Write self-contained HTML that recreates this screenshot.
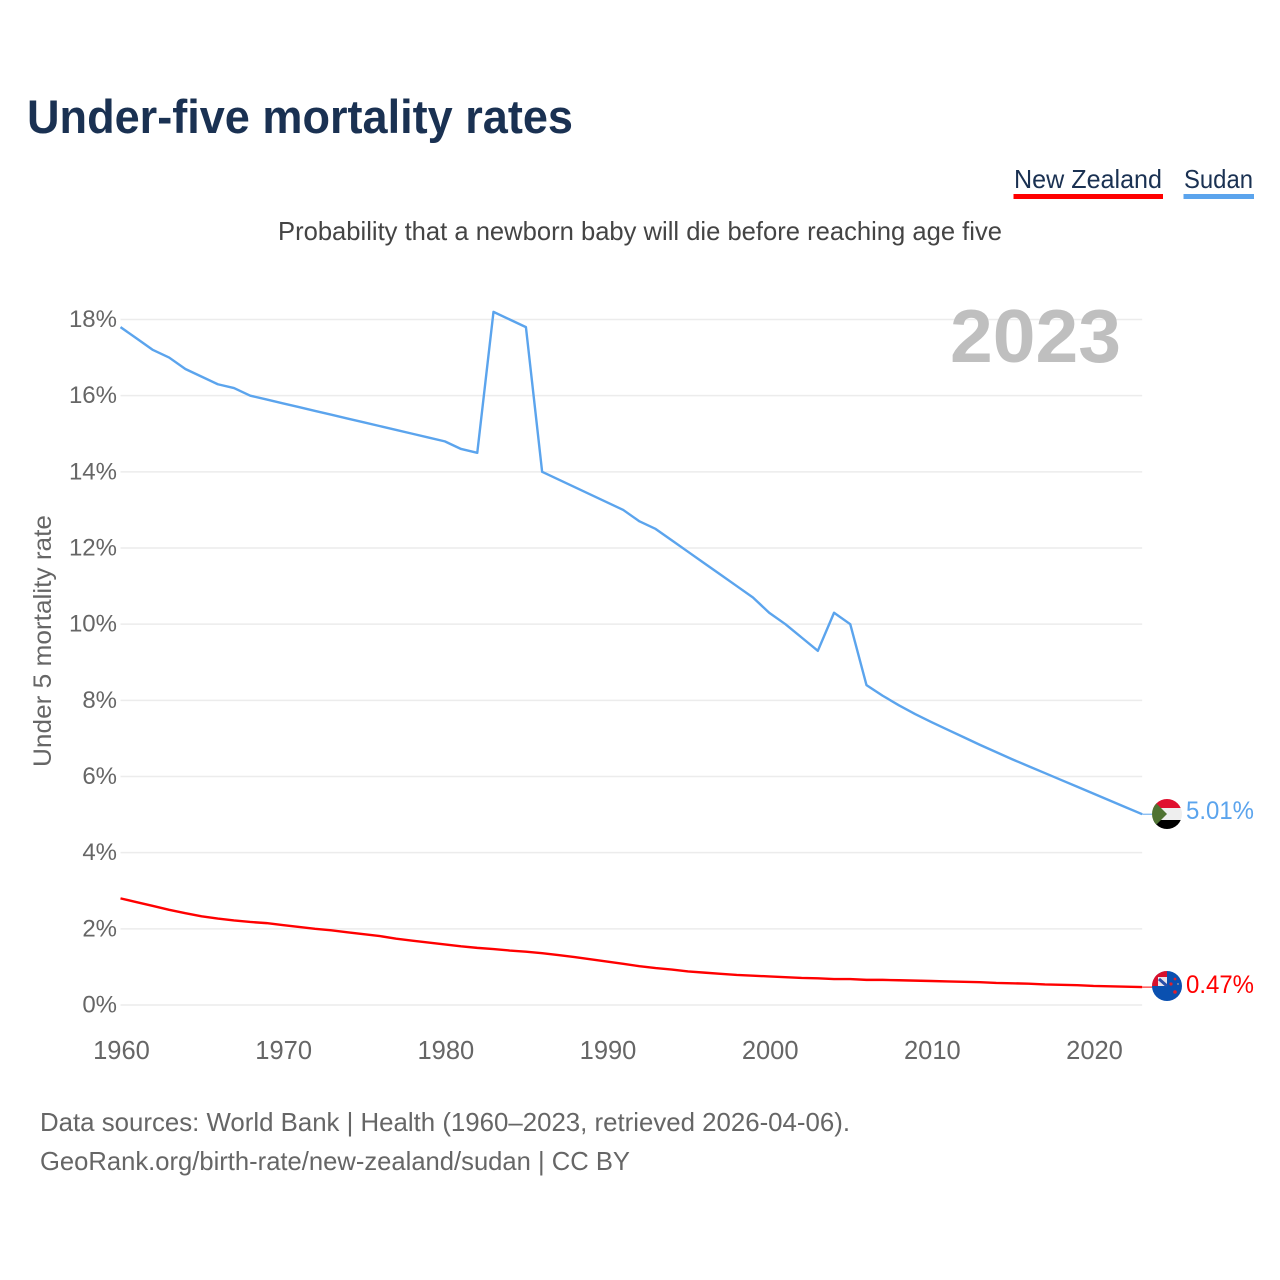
<!DOCTYPE html>
<html lang="en">
<head>
<meta charset="utf-8">
<title>Under-five mortality rates</title>
<style>
html,body{margin:0;padding:0;background:#fff;width:1280px;height:1280px;overflow:hidden}
svg{display:block}
text{font-family:"Liberation Sans",sans-serif}
</style>
</head>
<body>
<svg id="chart" xmlns="http://www.w3.org/2000/svg" width="1280" height="1280" viewBox="0 0 1280 1280">
  <defs>
    <clipPath id="clip-sudan"><circle cx="1167" cy="814" r="15"/></clipPath>
    <clipPath id="clip-nz"><circle cx="1167" cy="986" r="15"/></clipPath>
  </defs>
  <text x="27" y="133" font-size="47" font-weight="700" fill="#1a3152" textLength="546" lengthAdjust="spacingAndGlyphs">Under-five mortality rates</text>
  <text x="1014" y="188" font-size="26" fill="#1a3152" textLength="148" lengthAdjust="spacingAndGlyphs">New Zealand</text>
  <rect x="1013.5" y="194" width="149.5" height="5" fill="#ff0000"/>
  <text x="1184" y="188" font-size="26" fill="#1a3152" textLength="69" lengthAdjust="spacingAndGlyphs">Sudan</text>
  <rect x="1183.5" y="194" width="70.5" height="5" fill="#5ba4ed"/>
  <text x="278" y="240" font-size="26" fill="#444444" textLength="724" lengthAdjust="spacingAndGlyphs">Probability that a newborn baby will die before reaching age five</text>
  <g id="grid"></g>
  <text x="950" y="362" font-size="75" font-weight="700" fill="#bfbfbf" textLength="171" lengthAdjust="spacingAndGlyphs">2023</text>
  <g id="y-ticks"></g>
  <g id="x-ticks"></g>
  <text transform="translate(51 767) rotate(-90)" x="0" y="0" font-size="25" fill="#666666" textLength="252" lengthAdjust="spacingAndGlyphs">Under 5 mortality rate</text>
  <g id="series"></g>

  <g clip-path="url(#clip-sudan)">
    <rect x="1152" y="799" width="30" height="9" fill="#e0102f"/>
    <rect x="1152" y="808" width="30" height="12" fill="#eeeeee"/>
    <rect x="1152" y="820" width="30" height="9" fill="#000000"/>
    <polygon points="1150,797 1167,814 1150,831" fill="#4f7332"/>
  </g>
  <g clip-path="url(#clip-nz)">
    <rect x="1152" y="971" width="30" height="30" fill="#0a50b0"/>
    <rect x="1152" y="971" width="15" height="15" fill="#e9e4ea"/>
    <rect x="1152" y="971" width="15" height="6" fill="#d8102c"/>
    <rect x="1152" y="971" width="6" height="15" fill="#d8102c"/>
    <polyline points="1159,979 1167,986" stroke="#2a4fa8" stroke-width="3" fill="none"/>
    <circle cx="1171" cy="984" r="1.6" fill="#e0202c"/>
    <circle cx="1175" cy="979" r="1.4" fill="#e0202c"/>
    <circle cx="1178" cy="984" r="1" fill="#8a8aa0"/>
    <circle cx="1175" cy="992" r="1.8" fill="#e0202c"/>
  </g>
  <text x="1186" y="819" font-size="25" fill="#5ba4ed" textLength="68" lengthAdjust="spacingAndGlyphs">5.01%</text>
  <text x="1186" y="993" font-size="25" fill="#ff0000" textLength="68" lengthAdjust="spacingAndGlyphs">0.47%</text>

  <text x="40" y="1131" font-size="26" fill="#666666" textLength="810" lengthAdjust="spacingAndGlyphs">Data sources: World Bank | Health (1960–2023, retrieved 2026-04-06).</text>
  <text x="40" y="1170" font-size="26" fill="#666666" textLength="590" lengthAdjust="spacingAndGlyphs">GeoRank.org/birth-rate/new-zealand/sudan | CC BY</text>
</svg>
<script>
const startYear = 1960;
const yTickValues = [0, 2, 4, 6, 8, 10, 12, 14, 16, 18];
const xTickYears = [1960, 1970, 1980, 1990, 2000, 2010, 2020];
const sudanValues = [17.8,17.5,17.2,17.0,16.7,16.5,16.3,16.2,16.0,15.9,15.8,15.7,15.6,15.5,15.4,15.3,15.2,15.1,15.0,14.9,14.8,14.6,14.5,18.2,18.0,17.8,14.0,13.8,13.6,13.4,13.2,13.0,12.7,12.5,12.2,11.9,11.6,11.3,11.0,10.7,10.3,10.0,9.65,9.3,10.3,10.0,8.4,8.12,7.87,7.64,7.43,7.23,7.03,6.83,6.64,6.45,6.27,6.09,5.91,5.73,5.55,5.37,5.19,5.01];
const newZealandValues = [2.8,2.7,2.6,2.5,2.41,2.33,2.27,2.22,2.18,2.15,2.1,2.05,2.0,1.96,1.91,1.86,1.81,1.74,1.69,1.64,1.59,1.54,1.5,1.47,1.43,1.4,1.36,1.31,1.26,1.2,1.14,1.08,1.02,0.97,0.93,0.88,0.85,0.82,0.79,0.77,0.75,0.73,0.71,0.7,0.68,0.68,0.66,0.66,0.65,0.64,0.63,0.62,0.61,0.6,0.58,0.57,0.56,0.54,0.53,0.52,0.5,0.49,0.48,0.47];

const NS = 'http://www.w3.org/2000/svg';
function xScale(year) { return 120.5 + (year - 1960) * 16.217; }
function yScale(value) { return 1005 - value * (1005 - 319.5) / 18; }
function linePoints(values) {
  const pts = values.map(function (v, i) { return xScale(startYear + i).toFixed(2) + ',' + yScale(v).toFixed(2); });
  return pts;
}

const grid = document.getElementById('grid');
const yTicks = document.getElementById('y-ticks');
yTickValues.forEach(function (v) {
  const line = document.createElementNS(NS, 'line');
  
  
  line.setAttribute('x1', xScale(1960));
  line.setAttribute('x2', xScale(2023));
  line.setAttribute('y1', yScale(v));
  line.setAttribute('y2', yScale(v));
  line.setAttribute('stroke', '#ececec');
  line.setAttribute('stroke-width', '1.5');
  grid.appendChild(line);

  const label = document.createElementNS(NS, 'text');
  
  
  label.setAttribute('x', 117);
  label.setAttribute('y', yScale(v) + 7.5);
  label.setAttribute('text-anchor', 'end');
  label.setAttribute('font-size', '24');
  label.setAttribute('fill', '#666666');
  label.textContent = v + '%';
  yTicks.appendChild(label);
});

const xTicks = document.getElementById('x-ticks');
xTickYears.forEach(function (year) {
  const label = document.createElementNS(NS, 'text');
  
  
  label.setAttribute('x', xScale(year) + 1);
  label.setAttribute('y', 1059);
  label.setAttribute('text-anchor', 'middle');
  label.setAttribute('font-size', '25.5');
  label.setAttribute('fill', '#666666');
  label.textContent = String(year);
  xTicks.appendChild(label);
});

const series = document.getElementById('series');

const sudanLine = document.createElementNS(NS, 'polyline');


sudanLine.setAttribute('points', linePoints(sudanValues).join(' '));
sudanLine.setAttribute('fill', 'none');
sudanLine.setAttribute('stroke', '#5ba4ed');
sudanLine.setAttribute('stroke-width', '2.4');
sudanLine.setAttribute('stroke-linejoin', 'round');
series.appendChild(sudanLine);

const sudanLeader = document.createElementNS(NS, 'line');


sudanLeader.setAttribute('x1', xScale(2023));
sudanLeader.setAttribute('x2', 1155);
sudanLeader.setAttribute('y1', yScale(sudanValues[sudanValues.length - 1]));
sudanLeader.setAttribute('y2', yScale(sudanValues[sudanValues.length - 1]));
sudanLeader.setAttribute('stroke', '#5ba4ed');
sudanLeader.setAttribute('stroke-width', '1');
series.appendChild(sudanLeader);

const nzLine = document.createElementNS(NS, 'polyline');


nzLine.setAttribute('points', linePoints(newZealandValues).join(' '));
nzLine.setAttribute('fill', 'none');
nzLine.setAttribute('stroke', '#ff0000');
nzLine.setAttribute('stroke-width', '2.4');
nzLine.setAttribute('stroke-linejoin', 'round');
series.appendChild(nzLine);

const nzLeader = document.createElementNS(NS, 'line');


nzLeader.setAttribute('x1', xScale(2023));
nzLeader.setAttribute('x2', 1155);
nzLeader.setAttribute('y1', yScale(newZealandValues[newZealandValues.length - 1]));
nzLeader.setAttribute('y2', yScale(newZealandValues[newZealandValues.length - 1]));
nzLeader.setAttribute('stroke', '#ff0000');
nzLeader.setAttribute('stroke-width', '1');
series.appendChild(nzLeader);
</script>
</body>
</html>
